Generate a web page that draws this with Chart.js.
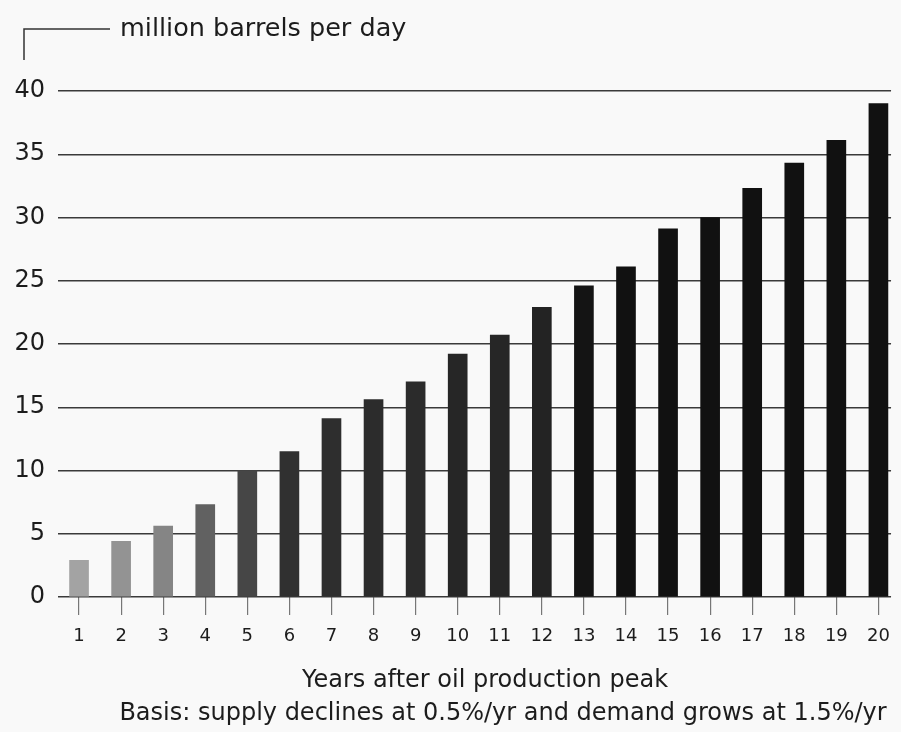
<!DOCTYPE html>
<html>
<head>
<meta charset="utf-8">
<script src="https://cdn.jsdelivr.net/npm/chart.js@4.4.1/dist/chart.umd.min.js"></script>
<style>
  html, body { margin: 0; padding: 0; background: #f9f9f9; }
  #wrap { position: relative; width: 901px; height: 732px; }
</style>
</head>
<body>
<div id="wrap"><canvas id="oilChart" width="901" height="732"></canvas></div>
<script>
// data
const years = [1, 2, 3, 4, 5, 6, 7, 8, 9, 10, 11, 12, 13, 14, 15, 16, 17, 18, 19, 20];
const shortfall = [2.9, 4.4, 5.6, 7.3, 10.0, 11.5, 14.1, 15.6, 17.0, 19.2,
                   20.7, 22.9, 24.6, 26.1, 29.1, 30.0, 32.3, 34.3, 36.1, 39.0];
const yTicks = [0, 5, 10, 15, 20, 25, 30, 35, 40];

const unitLabel = 'million barrels per day';
const xTitle = 'Years after oil production peak';
const basisNote = 'Basis: supply declines at 0.5%/yr and demand grows at 1.5%/yr';

// bars go from grey to black over the first years
const barColors = ['#a3a3a3', '#939393', '#858585', '#616161', '#464646',
                   '#303030', '#2e2e2e', '#2c2c2c', '#2b2b2b', '#262626',
                   '#262626', '#232323', '#141414', '#111111', '#111111',
                   '#111111', '#111111', '#111111', '#111111', '#111111'];

const FONT = '"DejaVu Sans", "Liberation Sans", sans-serif';
const INK = '#1c1c1c';

// bracket + unit label at top, axis title and note at bottom
const annotations = {
    id: 'annotations',
    afterDraw(chart) {
        const ctx = chart.ctx;
        ctx.save();
        ctx.strokeStyle = '#333';
        ctx.lineWidth = 1.5;
        ctx.beginPath();
        ctx.moveTo(24, 60);
        ctx.lineTo(24, 29);
        ctx.lineTo(110, 29);
        ctx.stroke();

        ctx.fillStyle = INK;
        ctx.textBaseline = 'middle';
        ctx.textAlign = 'left';
        ctx.font = '25.5px ' + FONT;
        ctx.fillText(unitLabel, 120, 29);

        ctx.font = '24px ' + FONT;
        ctx.textAlign = 'center';
        ctx.fillText(xTitle, 485, 681);
        ctx.fillText(basisNote, 503, 714);
        ctx.restore();
    }
};

const ctx = document.getElementById('oilChart');

new Chart(ctx, {
    type: 'bar',
    data: {
        datasets: [{
            label: unitLabel,
            data: years.map((yr, i) => ({ x: yr, y: shortfall[i] })),
            backgroundColor: barColors,
            borderWidth: 0,
            barThickness: 19
        }]
    },
    options: {
        responsive: false,
        animation: false,
        layout: { padding: { top: 91, right: 8, bottom: 0, left: 0 } },
        plugins: {
            legend: { display: false },
            tooltip: { enabled: false }
        },
        scales: {
            x: {
                type: 'linear',
                min: 0.5,
                max: 20.3,
                offset: false,
                afterBuildTicks: (scale) => {
                    scale.ticks = years.map(v => ({ value: v }));
                },
                afterFit: (scale) => { scale.height = 135; },
                grid: {
                    offset: false,
                    drawOnChartArea: false,
                    drawTicks: true,
                    tickLength: 18,
                    color: '#777',
                    lineWidth: 1.2
                },
                border: { display: false },
                ticks: {
                    color: INK,
                    font: { family: FONT, size: 18 },
                    padding: 11,
                    maxRotation: 0,
                    autoSkip: false
                }
            },
            y: {
                min: 0,
                max: 40,
                afterBuildTicks: (scale) => {
                    scale.ticks = yTicks.map(v => ({ value: v }));
                },
                afterFit: (scale) => { scale.width = 58; },
                grid: {
                    drawTicks: false,
                    color: '#3a3a3a',
                    lineWidth: 1.5
                },
                border: { display: false },
                ticks: {
                    color: INK,
                    font: { family: FONT, size: 24 },
                    padding: 13
                }
            }
        }
    },
    plugins: [annotations]
});
</script>
</body>
</html>
